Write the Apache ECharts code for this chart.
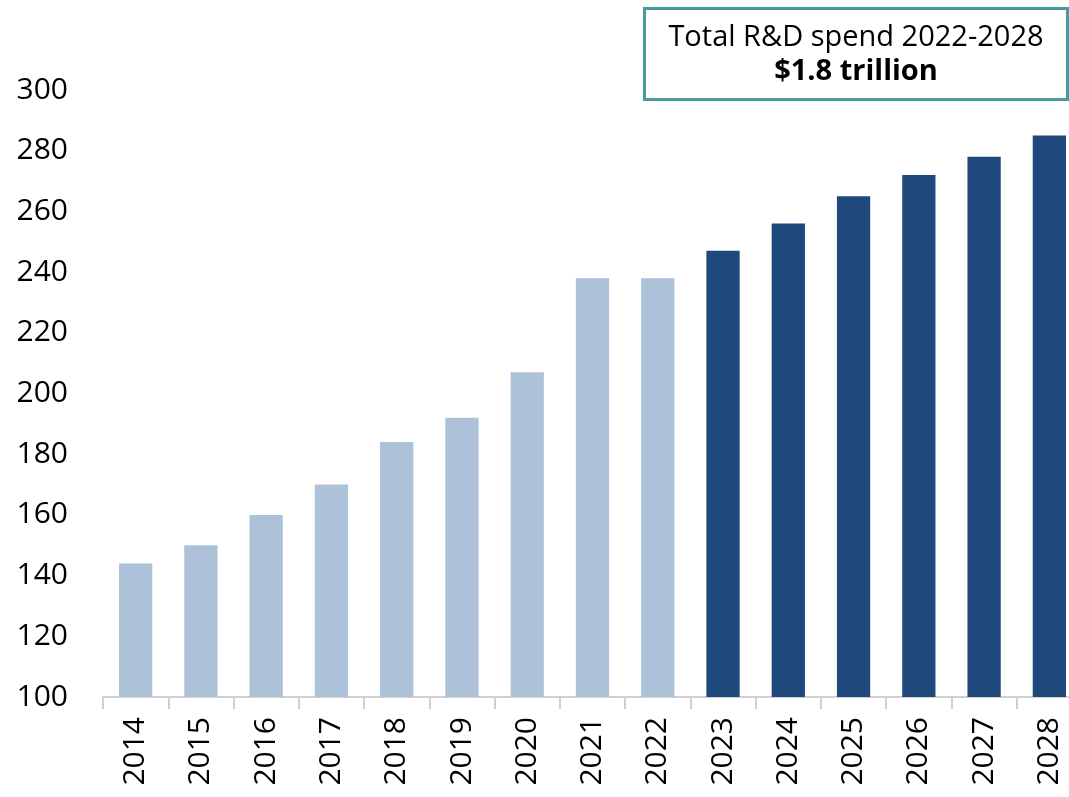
<!DOCTYPE html>
<html><head><meta charset="utf-8">
<script src="https://cdn.jsdelivr.net/npm/echarts@6/dist/echarts.min.js"></script>
<style>html,body{margin:0;padding:0;background:#fff}#c{width:1069px;height:797px}</style>
</head><body><div id="c"></div>
<script>
const years = ['2014','2015','2016','2017','2018','2019','2020','2021','2022','2023','2024','2025','2026','2027','2028'];
const values = [144, 150, 160, 170, 184, 192, 207, 238, 238, 247, 256, 265, 272, 278, 285];
const forecastStart = '2023';
const yTicks = {min: 100, max: 300, interval: 20};
const boxLine1 = 'Total R&D spend 2022-2028';
const boxLine2 = '$1.8 trillion';

const lightColor = '#adc2d8';
const darkColor = '#1f497d';
const fIdx = years.indexOf(forecastStart);
const chart = echarts.init(document.getElementById('c'));
chart.setOption({
  animation: false,
  textStyle: {fontFamily: 'Open Sans'},
  grid: {left: 103, width: 979, top: 90, height: 607, containLabel: false, outerBoundsMode: 'none'},
  xAxis: {
    type: 'category', data: years,
    axisLine: {lineStyle: {color: '#d0d0d0', width: 2}},
    axisTick: {show: true, length: 12, lineStyle: {color: '#d0d0d0', width: 2}},
    axisLabel: {rotate: 90, color: '#000', fontSize: 30, margin: 20, fontFamily: 'Open Sans'}
  },
  yAxis: {
    type: 'value', min: yTicks.min, max: yTicks.max, interval: yTicks.interval,
    axisLine: {show: false}, axisTick: {show: false}, splitLine: {show: false},
    axisLabel: {color: '#000', fontSize: 30, margin: 35, fontFamily: 'Open Sans'}
  },
  series: [{
    type: 'bar', barWidth: '51%',
    data: values.map((v, i) => ({value: v, itemStyle: {color: i >= fIdx ? darkColor : lightColor}}))
  }],
  graphic: [{
    type: 'group', left: 643, top: 7,
    children: [
      {type: 'rect', shape: {x: 0, y: 0, width: 423, height: 91}, style: {fill: '#fff', stroke: '#4a9a9d', lineWidth: 3}},
      {type: 'text', style: {text: boxLine1, x: 211.5, y: 29, align: 'center', verticalAlign: 'middle', fontSize: 29, fontFamily: 'Open Sans', fill: '#000'}},
      {type: 'text', style: {text: boxLine2, x: 211.5, y: 63, align: 'center', verticalAlign: 'middle', fontSize: 29, fontWeight: 'bold', fontFamily: 'Open Sans', fill: '#000'}}
    ]
  }]
});
</script></body></html>
